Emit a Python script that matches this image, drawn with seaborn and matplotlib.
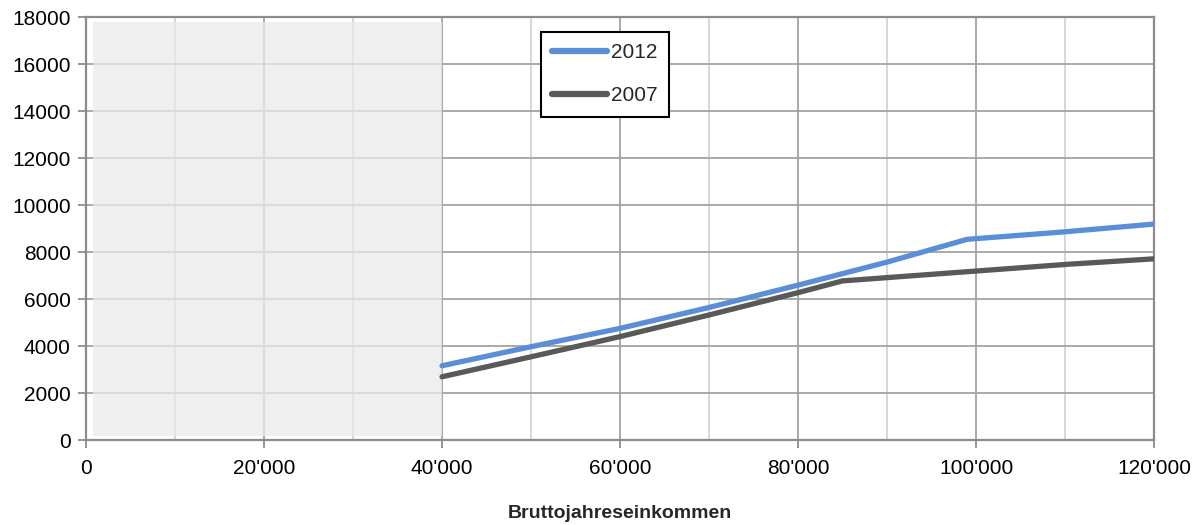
import pandas as pd
import seaborn as sns
import matplotlib.pyplot as plt
from matplotlib.ticker import FuncFormatter, MultipleLocator

# values
income_2012 = [40000, 50000, 60000, 70000, 80000, 90000, 99000, 110000, 120000]
tax_2012 = [3160, 3970, 4750, 5640, 6590, 7570, 8540, 8860, 9190]
income_2007 = [40000, 50000, 60000, 70000, 80000, 85000, 100000, 110000, 120000]
tax_2007 = [2690, 3540, 4400, 5320, 6270, 6770, 7190, 7470, 7710]
series_names = ['2012', '2007']
series_colors = ['#5b8ed8', '#595959']

# grey shaded block on the left
shade_x = [800, 40000]
shade_y = [150, 17800]

x_ticks = [0, 20000, 40000, 60000, 80000, 100000, 120000]
y_ticks = list(range(0, 18001, 2000))

df = pd.concat([
    pd.DataFrame({'Einkommen': income_2012, 'Steuer': tax_2012, 'Jahr': '2012'}),
    pd.DataFrame({'Einkommen': income_2007, 'Steuer': tax_2007, 'Jahr': '2007'}),
], ignore_index=True)

sns.set_style("white")
plt.rcParams['font.family'] = ['Liberation Sans', 'DejaVu Sans']

fig = plt.figure(figsize=(12.01, 5.25), dpi=100)
ax = fig.add_axes([0.0716, 0.1619, 0.8893, 0.8057])

sns.lineplot(data=df, x='Einkommen', y='Steuer', hue='Jahr', hue_order=series_names,
             palette=series_colors, linewidth=3.8, ax=ax, zorder=4,
             solid_capstyle='round', sort=False)

ax.fill_between(shade_x, shade_y[0], shade_y[1], color='#eaeaea', alpha=0.76,
                lw=0, zorder=3)

ax.set_xlim(0, 120000)
ax.set_ylim(0, 18000)
ax.set_xticks(x_ticks)
ax.xaxis.set_minor_locator(MultipleLocator(10000))
ax.set_yticks(y_ticks)
ax.xaxis.set_major_formatter(FuncFormatter(lambda v, p: f"{int(v):,}".replace(",", "'")))

ax.grid(True, which='major', axis='both', color='#a3a3a3', lw=1.3, zorder=1)
ax.grid(True, which='minor', axis='x', color='#d4d4d4', lw=1.3, zorder=1)
ax.set_axisbelow(True)

for s in ax.spines.values():
    s.set_color('#8c8c8c')
    s.set_linewidth(1.6)

ax.tick_params(axis='both', which='major', direction='out', length=6, width=1.3,
               color='#8c8c8c', labelsize=15, labelcolor='black', pad=5,
               left=True, bottom=True)
ax.tick_params(axis='x', which='minor', length=0)
ax.tick_params(axis='x', pad=8)

ax.set_xlabel('Bruttojahreseinkommen', fontsize=14, fontweight='bold', labelpad=19)
ax.set_ylabel('')

leg = ax.legend(loc='upper left', bbox_to_anchor=(0.426, 0.9645), frameon=True,
                fancybox=False, edgecolor='black', framealpha=1, fontsize=15,
                handlelength=2.6, handletextpad=0.2, labelspacing=1.15,
                borderpad=0.55, borderaxespad=0)
leg.get_frame().set_linewidth(1.5)
for h in leg.get_lines():
    h.set_linewidth(4.5)
    h.set_solid_capstyle('round')

fig.savefig('out.png', dpi=100)
